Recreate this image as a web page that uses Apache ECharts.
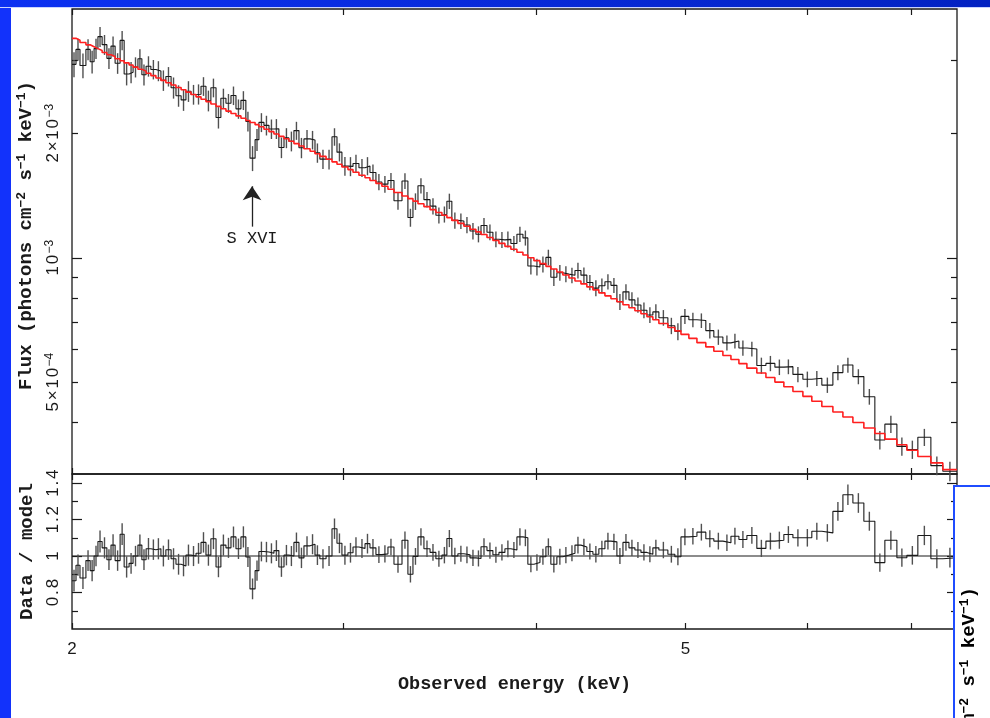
<!DOCTYPE html>
<html>
<head>
<meta charset="utf-8">
<script src="https://cdn.jsdelivr.net/npm/echarts@6/dist/echarts.min.js"></script>
<style>
  html, body { margin: 0; padding: 0; background: #ffffff; }
  #chart { width: 990px; height: 718px; }
</style>
</head>
<body>
<div id="chart"></div>
<script>
// Spectral bin edges, observed energy (keV)
const energyEdges = [
  2.000, 2.012, 2.024, 2.042, 2.055, 2.067, 2.079, 2.092, 2.107, 2.120,
  2.133, 2.149, 2.162, 2.178, 2.191, 2.207, 2.220, 2.234, 2.250, 2.267,
  2.284, 2.301, 2.319, 2.336, 2.354, 2.371, 2.389, 2.407, 2.425, 2.443,
  2.461, 2.480, 2.498, 2.517, 2.536, 2.555, 2.574, 2.593, 2.609, 2.629,
  2.644, 2.664, 2.684, 2.704, 2.724, 2.745, 2.765, 2.786, 2.807, 2.828,
  2.854, 2.875, 2.896, 2.923, 2.949, 2.971, 2.993, 3.020, 3.043, 3.070,
  3.098, 3.121, 3.149, 3.177, 3.206, 3.235, 3.274, 3.303, 3.328, 3.353,
  3.383, 3.414, 3.444, 3.475, 3.501, 3.527, 3.559, 3.591, 3.624, 3.656,
  3.684, 3.717, 3.750, 3.784, 3.818, 3.852, 3.887, 3.922, 3.951, 3.987,
  4.023, 4.059, 4.089, 4.126, 4.163, 4.201, 4.239, 4.277, 4.315, 4.354,
  4.393, 4.433, 4.473, 4.513, 4.554, 4.595, 4.636, 4.678, 4.720, 4.762,
  4.805, 4.870, 4.921, 4.966, 5.025, 5.086, 5.154, 5.216, 5.287, 5.351,
  5.415, 5.480, 5.562, 5.638, 5.714, 5.791, 5.870, 5.958, 6.038, 6.129,
  6.231, 6.325, 6.420, 6.526, 6.634, 6.734, 6.856, 6.959, 7.074, 7.213,
  7.343, 7.500
];

// Best-fit continuum model per bin (10^-3 photons cm^-2 s^-1 keV^-1)
const modelFlux = [
  3.397, 3.362, 3.319, 3.276, 3.242, 3.208, 3.175, 3.138, 3.101, 3.069,
  3.033, 2.998, 2.963, 2.928, 2.894, 2.860, 2.830, 2.797, 2.760, 2.724,
  2.688, 2.653, 2.619, 2.584, 2.551, 2.517, 2.484, 2.452, 2.419, 2.388,
  2.356, 2.325, 2.295, 2.265, 2.235, 2.205, 2.176, 2.150, 2.125, 2.100,
  2.075, 2.047, 2.020, 1.993, 1.967, 1.941, 1.915, 1.890, 1.865, 1.837,
  1.811, 1.786, 1.760, 1.732, 1.707, 1.684, 1.659, 1.635, 1.611, 1.585,
  1.562, 1.539, 1.514, 1.490, 1.466, 1.439, 1.412, 1.391, 1.372, 1.352,
  1.330, 1.308, 1.287, 1.268, 1.251, 1.232, 1.212, 1.193, 1.173, 1.156,
  1.139, 1.120, 1.102, 1.084, 1.066, 1.049, 1.032, 1.016, 1.001, 0.9846,
  0.9685, 0.9539, 0.9396, 0.9242, 0.9090, 0.8941, 0.8794, 0.8650, 0.8507, 0.8367,
  0.8229, 0.8094, 0.7960, 0.7829, 0.7699, 0.7572, 0.7446, 0.7323, 0.7202, 0.7082,
  0.6935, 0.6782, 0.6660, 0.6531, 0.6386, 0.6235, 0.6089, 0.5945, 0.5804, 0.5675,
  0.5549, 0.5410, 0.5267, 0.5134, 0.5005, 0.4879, 0.4750, 0.4623, 0.4500, 0.4368,
  0.4239, 0.4120, 0.3998, 0.3875, 0.3760, 0.3643, 0.3530, 0.3424, 0.3308, 0.3191,
  0.3074
];

// Data / model per bin
const ratio = [
  0.865, 0.950, 0.880, 0.975, 0.920, 1.000, 1.080, 1.045, 0.980, 1.060,
  0.975, 1.120, 0.940, 0.960, 1.000, 1.060, 0.980, 1.040, 1.035, 1.040,
  1.000, 1.035, 0.985, 0.955, 0.945, 1.005, 1.000, 1.015, 1.075, 1.005,
  1.095, 0.940, 1.060, 1.045, 1.105, 1.040, 1.105, 0.995, 0.820, 0.920,
  1.025, 1.022, 1.015, 1.030, 0.940, 1.005, 1.000, 1.075, 0.990, 1.056,
  1.065, 1.005, 0.985, 1.000, 1.150, 1.070, 1.005, 1.018, 1.050, 1.042,
  1.068, 1.045, 1.008, 1.012, 1.050, 0.955, 1.087, 0.900, 0.998, 1.105,
  1.040, 1.020, 0.985, 1.005, 1.096, 1.000, 1.013, 1.007, 0.990, 0.987,
  1.051, 1.030, 1.007, 1.020, 1.040, 1.033, 1.105, 1.100, 0.955, 0.965,
  0.996, 1.051, 0.955, 0.996, 1.005, 1.015, 1.060, 1.050, 1.025, 1.010,
  1.040, 1.082, 1.078, 1.000, 1.075, 1.045, 1.033, 1.020, 1.010, 1.045,
  1.033, 1.010, 0.996, 1.105, 1.109, 1.131, 1.095, 1.082, 1.073, 1.109,
  1.091, 1.113, 1.042, 1.082, 1.087, 1.118, 1.100, 1.100, 1.136, 1.127,
  1.245, 1.336, 1.291, 1.191, 0.964, 1.087, 0.991, 1.004, 1.113, 0.985,
  0.991
];

// 1-sigma uncertainty on data / model
const ratioErr = [
  0.060, 0.058, 0.060, 0.057, 0.058, 0.056, 0.060, 0.058, 0.057, 0.059,
  0.056, 0.060, 0.058, 0.057, 0.056, 0.058, 0.057, 0.059, 0.056, 0.058,
  0.057, 0.056, 0.058, 0.057, 0.056, 0.058, 0.055, 0.057, 0.056, 0.058,
  0.057, 0.056, 0.058, 0.055, 0.057, 0.056, 0.058, 0.055, 0.057, 0.056,
  0.054, 0.056, 0.055, 0.057, 0.054, 0.056, 0.055, 0.054, 0.056, 0.053,
  0.055, 0.054, 0.053, 0.055, 0.056, 0.054, 0.052, 0.054, 0.053, 0.052,
  0.054, 0.048, 0.046, 0.047, 0.045, 0.046, 0.047, 0.045, 0.046, 0.047,
  0.045, 0.046, 0.044, 0.045, 0.047, 0.045, 0.044, 0.046, 0.045, 0.044,
  0.046, 0.045, 0.044, 0.045, 0.046, 0.044, 0.047, 0.046, 0.044, 0.045,
  0.044, 0.046, 0.045, 0.044, 0.045, 0.044, 0.046, 0.045, 0.044, 0.045,
  0.044, 0.046, 0.045, 0.044, 0.046, 0.045, 0.044, 0.045, 0.044, 0.045,
  0.045, 0.046, 0.047, 0.046, 0.045, 0.046, 0.047, 0.046, 0.045, 0.046,
  0.047, 0.046, 0.047, 0.046, 0.047, 0.046, 0.047, 0.048, 0.047, 0.048,
  0.052, 0.056, 0.054, 0.052, 0.050, 0.052, 0.050, 0.051, 0.053, 0.052,
  0.054
];

// Axis ticks and labels
const energyRange = [2, 7.5];
const energyTicks = [2, 3, 4, 5, 6, 7];
const energyLabels = [2, 5];
const fluxRange = [3e-4, 4e-3];
const fluxMajorTicks = [1e-3];
const fluxMinorTicks = [4e-4, 5e-4, 6e-4, 7e-4, 8e-4, 9e-4, 2e-3, 3e-3];
const fluxLabels = [5e-4, 1e-3, 2e-3];
const ratioRange = [0.6, 1.45];
const ratioMajorTicks = [0.8, 1, 1.2, 1.4];
const ratioMinorTicks = [0.7, 0.9, 1.1, 1.3];
const unityRatio = 1;

// Absorption line marker
const lineMarker = { name: 'S XVI', energy: 2.617, fluxFrom: 1.19e-3, fluxTo: 1.49e-3 };

const MONO = '"Liberation Mono", "DejaVu Sans Mono", monospace';
const SANS = '"Liberation Sans", Arial, sans-serif';
const INK = '#1a1a1a';

const flux = ratio.map((r, i) => r * modelFlux[i] * 1e-3);
const fluxErr = ratioErr.map((e, i) => e * modelFlux[i] * 1e-3);
const model = modelFlux.map(m => m * 1e-3);

function stepPoints(vals) {
  const pts = [];
  for (let i = 0; i < vals.length; i++) {
    pts.push([energyEdges[i], vals[i]], [energyEdges[i + 1], vals[i]]);
  }
  return pts;
}
function barPoints(vals, errs) {
  return vals.map((v, i) => [Math.sqrt(energyEdges[i] * energyEdges[i + 1]), v - errs[i], v + errs[i]]);
}
function errorBar(color, width) {
  return function (params, api) {
    const a = api.coord([api.value(0), api.value(1)]);
    const b = api.coord([api.value(0), api.value(2)]);
    return {
      type: 'line',
      shape: { x1: a[0], y1: a[1], x2: b[0], y2: b[1] },
      style: { stroke: color, lineWidth: width }
    };
  };
}
// spread tick-label characters slightly, plotter style
function spaced(str) {
  return str.split('').map(c => '{d|' + c + '}').join('');
}
function powLabel(v) {
  const e = Math.floor(Math.log10(v) + 1e-9);
  const m = Math.round(v / Math.pow(10, e));
  return spaced(m === 1 ? '10' : m + '×10') + '{s|−' + Math.abs(e) + '}';
}

const tickRich = {
  d: { fontFamily: SANS, fontSize: 17, color: INK, lineHeight: 19, padding: [0, 0.9] },
  s: { fontFamily: SANS, fontSize: 12, color: INK, verticalAlign: 'top', lineHeight: 12, padding: [0, 0.5] }
};
const titleRich = {
  t: { fontFamily: MONO, fontSize: 19, fontWeight: 'bold', color: INK, lineHeight: 22 },
  s: { fontFamily: MONO, fontSize: 13, fontWeight: 'bold', color: INK, verticalAlign: 'top', lineHeight: 13 }
};

const tickStyle = { color: INK, width: 1.2 };

function energyAxis(gridIndex, position, withLabels) {
  const ax = {
    type: 'log', logBase: 10, gridIndex, position,
    min: energyRange[0], max: energyRange[1],
    axisLine: { show: false }, splitLine: { show: false },
    axisTick: { show: true, inside: true, length: 6, customValues: energyTicks, lineStyle: tickStyle },
    axisLabel: { show: false }
  };
  if (withLabels) {
    ax.axisLabel = {
      show: true, customValues: energyLabels, margin: 11,
      formatter: v => spaced(String(Math.round(v))), rich: tickRich
    };
    ax.name = 'Observed energy (keV)';
    ax.nameLocation = 'middle';
    ax.nameGap = 46;
    ax.nameTextStyle = { fontFamily: MONO, fontSize: 18.5, fontWeight: 'bold', color: INK };
  }
  return ax;
}

function fluxAxis(position, ticks, len, withLabels) {
  const ax = {
    type: 'log', logBase: 10, gridIndex: 0, position,
    min: fluxRange[0], max: fluxRange[1],
    axisLine: { show: false }, splitLine: { show: false },
    axisTick: { show: true, inside: true, length: len, customValues: ticks, lineStyle: tickStyle },
    axisLabel: { show: false }
  };
  if (withLabels) {
    ax.axisLabel = { show: true, customValues: fluxLabels, rotate: 90, margin: 9, formatter: powLabel, rich: tickRich };
    ax.name = '{t|Flux (photons cm}{s|−2}{t| s}{s|−1}{t| keV}{s|−1}{t|)}';
    ax.nameLocation = 'middle';
    ax.nameRotate = 90;
    ax.nameGap = 33;
    ax.nameTextStyle = { rich: titleRich, padding: [0, 0, 0, 12] };
  }
  return ax;
}

function ratioAxis(position, ticks, len, withLabels) {
  const ax = {
    type: 'value', gridIndex: 1, position,
    min: ratioRange[0], max: ratioRange[1],
    axisLine: { show: false }, splitLine: { show: false },
    axisTick: { show: true, inside: true, length: len, customValues: ticks, lineStyle: tickStyle },
    axisLabel: { show: false }
  };
  if (withLabels) {
    ax.axisLabel = {
      show: true, customValues: ratioMajorTicks, rotate: 90, margin: 9,
      formatter: v => spaced(String(+v.toFixed(1))), rich: tickRich
    };
    ax.name = 'Data / model';
    ax.nameLocation = 'middle';
    ax.nameRotate = 90;
    ax.nameGap = 33;
    ax.nameTextStyle = { fontFamily: MONO, fontSize: 19, fontWeight: 'bold', color: INK };
  }
  return ax;
}

const gridFrame = { show: true, borderColor: INK, borderWidth: 1.3, backgroundColor: 'transparent', containLabel: false, outerBoundsMode: 'none' };

const option = {
  animation: false,
  backgroundColor: '#ffffff',
  grid: [
    Object.assign({ left: 72, top: 9, width: 885, height: 465 }, gridFrame),
    Object.assign({ left: 72, top: 474, width: 885, height: 155 }, gridFrame)
  ],
  xAxis: [
    energyAxis(0, 'bottom', false),
    energyAxis(0, 'top', false),
    energyAxis(1, 'bottom', true),
    energyAxis(1, 'top', false)
  ],
  yAxis: [
    fluxAxis('left', fluxMajorTicks, 10, true),
    fluxAxis('left', fluxMinorTicks, 6, false),
    fluxAxis('right', fluxMajorTicks, 10, false),
    fluxAxis('right', fluxMinorTicks, 6, false),
    ratioAxis('left', ratioMajorTicks, 10, true),
    ratioAxis('left', ratioMinorTicks, 6, false),
    ratioAxis('right', ratioMajorTicks, 10, false),
    ratioAxis('right', ratioMinorTicks, 6, false)
  ],
  series: [
    {
      type: 'custom', name: 'flux errors', xAxisIndex: 0, yAxisIndex: 0,
      renderItem: errorBar('#505050', 1.4), encode: { x: 0, y: [1, 2] },
      data: barPoints(flux, fluxErr), z: 2, silent: true
    },
    {
      type: 'line', name: 'flux', xAxisIndex: 0, yAxisIndex: 0,
      data: stepPoints(flux), showSymbol: false, symbol: 'none',
      lineStyle: { color: INK, width: 1.1 }, z: 3, silent: true,
      markLine: {
        silent: true, animation: false,
        symbol: ['none', 'arrow'], symbolSize: 14,
        lineStyle: { color: '#222', width: 1.3, type: 'solid' },
        label: {
          show: true, position: 'start', distance: 3, formatter: lineMarker.name,
          fontFamily: MONO, fontSize: 17, color: INK
        },
        data: [[
          { coord: [lineMarker.energy, lineMarker.fluxFrom], symbol: 'none' },
          { coord: [lineMarker.energy, lineMarker.fluxTo], symbol: 'arrow', symbolSize: 14 }
        ]]
      }
    },
    {
      type: 'line', name: 'model', xAxisIndex: 0, yAxisIndex: 0,
      data: stepPoints(model), showSymbol: false, symbol: 'none',
      lineStyle: { color: '#ff1f1f', width: 1.6 }, z: 4, silent: true
    },
    {
      type: 'line', name: 'unity', xAxisIndex: 2, yAxisIndex: 4,
      data: [[energyRange[0], unityRatio], [energyRange[1], unityRatio]],
      showSymbol: false, symbol: 'none',
      lineStyle: { color: INK, width: 1.1 }, z: 2, silent: true
    },
    {
      type: 'custom', name: 'ratio errors', xAxisIndex: 2, yAxisIndex: 4,
      renderItem: errorBar('#505050', 1.4), encode: { x: 0, y: [1, 2] },
      data: barPoints(ratio, ratioErr), z: 3, silent: true
    },
    {
      type: 'line', name: 'ratio', xAxisIndex: 2, yAxisIndex: 4,
      data: stepPoints(ratio), showSymbol: false, symbol: 'none',
      lineStyle: { color: INK, width: 1.1 }, z: 4, silent: true
    }
  ],
  graphic: [
    // slide background strips
    { type: 'rect', left: 0, top: 0, shape: { width: 11, height: 718 }, style: { fill: '#1232fb' }, z: 100, silent: true },
    {
      type: 'rect', left: 0, top: 0, shape: { width: 990, height: 7 }, z: 100, silent: true,
      style: { fill: new echarts.graphic.LinearGradient(0, 0, 1, 0, [
        { offset: 0, color: '#0c31f2' }, { offset: 1, color: '#0322c2' }
      ]) }
    },
    { type: 'rect', left: 0, top: 7, shape: { width: 990, height: 1 }, style: { fill: '#c9d3ff' }, z: 100, silent: true },
    // neighbouring panel frame at the lower right
    {
      type: 'rect', left: 953, top: 485, shape: { width: 40, height: 240 }, z: 100, silent: true,
      style: { fill: '#ffffff', stroke: '#1f4cff', lineWidth: 2 }
    },
    {
      type: 'text', x: 969, y: 587, rotation: Math.PI / 2, z: 101, silent: true,
      style: {
        text: '{t|cm}{s|−2}{t| s}{s|−1}{t| keV}{s|−1}{t|)}',
        rich: titleRich, textAlign: 'right', align: 'right', textVerticalAlign: 'middle', verticalAlign: 'middle'
      }
    }
  ]
};

const chart = echarts.init(document.getElementById('chart'), null, { renderer: 'canvas', width: 990, height: 718 });
chart.setOption(option);
</script>
</body>
</html>
